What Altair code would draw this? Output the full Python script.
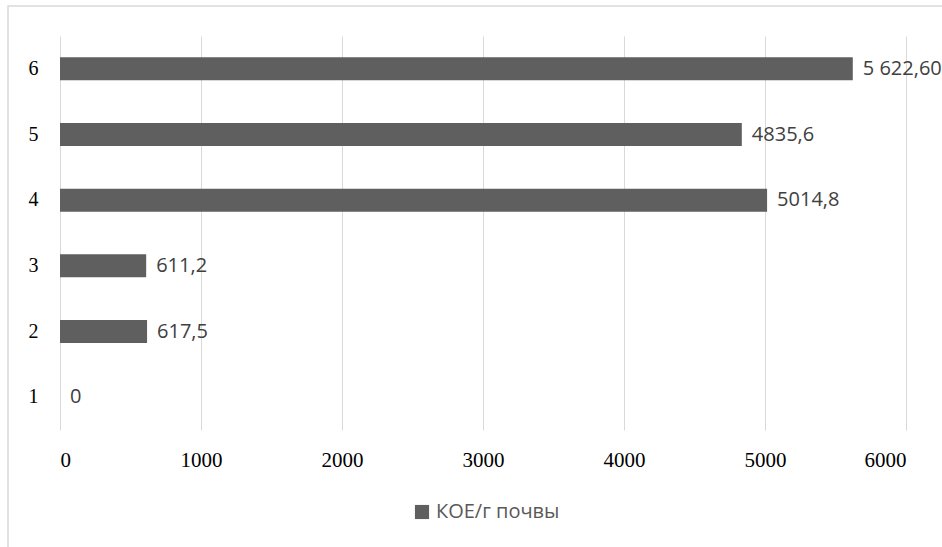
import altair as alt
import pandas as pd

categories = ["1", "2", "3", "4", "5", "6"]
values = [0, 617.5, 611.2, 5014.8, 4835.6, 5622.6]
value_labels = ["0", "617,5", "611,2", "5014,8", "4835,6", "5 622,60"]
series_name = "КОЕ/г почвы"
x_ticks = [0, 1000, 2000, 3000, 4000, 5000, 6000]

df = pd.DataFrame({
    "cat": categories,
    "val": values,
    "lbl": value_labels,
    "series": [series_name] * len(categories),
})

y_enc = alt.Y("cat:N", sort="descending", title=None,
              scale=alt.Scale(paddingInner=0.65, paddingOuter=0.325),
              axis=alt.Axis(domain=False, ticks=False, grid=False,
                            labelFont="Liberation Serif", labelFontSize=20,
                            labelFontWeight="normal",
                            labelColor="#000000", labelPadding=22))
x_enc = alt.X("val:Q", title=None,
              scale=alt.Scale(domain=[0, 6000], nice=False),
              axis=alt.Axis(values=x_ticks, domain=False, ticks=False,
                            grid=True, gridColor="#d9d9d9", gridWidth=1,
                            labelFont="Liberation Serif", labelFontSize=21,
                            labelFontWeight="normal",
                            labelColor="#000000", labelPadding=19,
                            format="d"))

border = alt.Chart(df).mark_rect(fill=None, stroke="#d9d9d9", strokeWidth=1.5).encode(
    x=alt.value(-52), x2=alt.value(1000), y=alt.value(-30), y2=alt.value(700)
).transform_filter("datum.cat == '1'")

bars = alt.Chart(df).mark_bar(size=23).encode(
    y=y_enc,
    x=x_enc,
    color=alt.Color("series:N", title=None,
                    scale=alt.Scale(range=["#5f5f5f"]),
                    legend=alt.Legend(orient="none", legendX=352, legendY=466,
                                      symbolType="square", symbolSize=200,
                                      symbolStrokeWidth=0, padding=0,
                                      labelFont="Open Sans", labelFontSize=20,
                                      labelColor="#595959", labelOffset=4)),
)

text = alt.Chart(df).mark_text(align="left", baseline="middle", dx=10,
                               font="Open Sans", fontSize=20,
                               color="#404040").encode(
    y=alt.Y("cat:N", sort="descending"),
    x="val:Q",
    text="lbl:N",
)

chart = alt.layer(border, bars, text).properties(
    width=846, height=394,
    autosize=alt.AutoSizeParams(type="none"),
    padding={"left": 60, "top": 36, "right": 36, "bottom": 117},
    background="#ffffff",
).configure_view(stroke=None)

chart.save("out.html", embed_options={"renderer": "svg", "actions": False})
